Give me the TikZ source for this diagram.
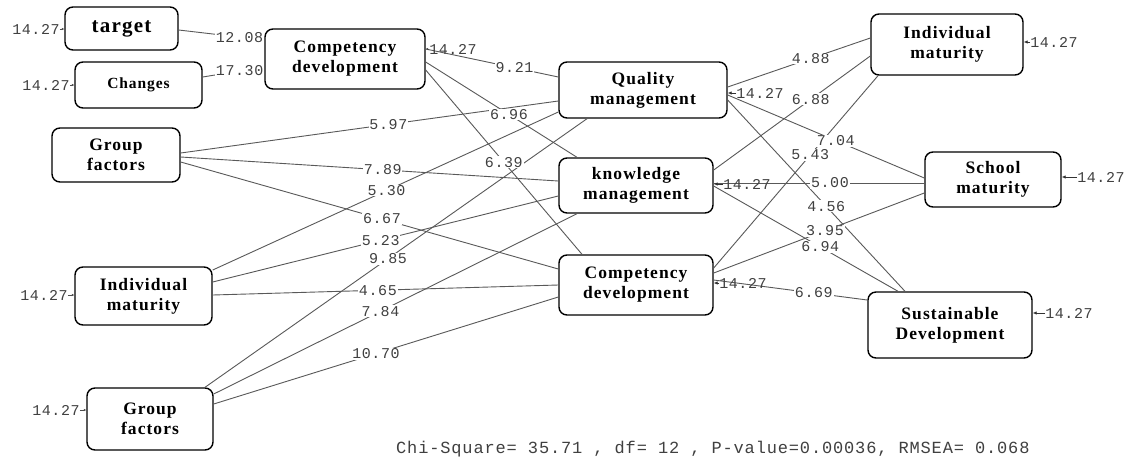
\documentclass[tikz,border=0pt]{standalone}
\usepackage{fontspec}
\usetikzlibrary{arrows.meta}
\newfontfamily\boxfont[LetterSpace=6]{Liberation Serif}
\newfontfamily\numfont[LetterSpace=4]{Liberation Mono}
\newfontfamily\chifont[LetterSpace=5]{Liberation Mono}
\begin{document}
\begin{tikzpicture}[x=1pt,y=-1pt,
  box/.style={draw=black, line width=1.4pt, rounded corners=8pt, align=center,
    font=\boxfont\bfseries\fontsize{17.5}{20}\selectfont, inner sep=0pt},
  conn/.style={draw=black!65, line width=0.9pt},
  lab/.style={font=\numfont\fontsize{15}{15}\selectfont, text=black!75, fill=white, inner sep=0.8pt},
  err/.style={font=\numfont\fontsize{15}{15}\selectfont, text=black!75, inner sep=0pt},
  errarr/.style={draw=black!80, line width=1pt, -{Latex[length=4pt,width=3.5pt]}},
  errarrl/.style={draw=black!70, line width=0.7pt, -{Latex[length=2.5pt,width=2.5pt]}},
  chi/.style={font=\chifont\fontsize{17}{17}\selectfont, text=black!75, inner sep=0pt}
]
\fill[white] (0,0) rectangle (1130,459);
\useasboundingbox (0,0) rectangle (1130,459);

% boxes
\node[box, minimum width=113pt, minimum height=43pt, font=\boxfont\bfseries\fontsize{21}{24}\selectfont] (tg) at (121.5,28.5) {target};
\node[box, minimum width=127pt, minimum height=46pt, font=\boxfont\bfseries\fontsize{15.5}{18}\selectfont] (ch) at (138.5,85) {Changes};
\node[box, minimum width=128pt, minimum height=54pt] (gft) at (116,155) {Group\\factors};
\node[box, minimum width=160pt, minimum height=60pt] (cdt) at (345,59) {Competency\\development};
\node[box, minimum width=137pt, minimum height=58pt] (iml) at (143.5,296) {Individual\\maturity};
\node[box, minimum width=126pt, minimum height=62pt] (gfb) at (150,419) {Group\\factors};
\node[box, minimum width=168pt, minimum height=56pt] (qm) at (643,90) {Quality\\management};
\node[box, minimum width=154pt, minimum height=55pt] (km) at (636,185.5) {knowledge\\management};
\node[box, minimum width=154pt, minimum height=60pt] (cdm) at (636,285) {Competency\\development};
\node[box, minimum width=152pt, minimum height=61pt] (imr) at (947,44.5) {Individual\\maturity};
\node[box, minimum width=136pt, minimum height=55pt] (sm) at (993,179.5) {School\\maturity};
\node[box, minimum width=164pt, minimum height=66pt] (sd) at (950,325) {Sustainable\\Development};

% connectors
\draw[conn] (tg.east |- 0,30) -- coordinate[pos=.71](c1) (cdt.west |- 0,40);
\draw[conn] (ch.east |- 0,77) -- coordinate[pos=.6](c2) (cdt.west |- 0,67);
\draw[conn] (cdt.east |- 0,49) -- coordinate[pos=.67](c3) (qm.west |- 0,77);
\draw[conn] (cdt.east |- 0,62) -- coordinate[pos=.55](c4) (577,0 |- km.north);
\draw[conn] (cdt.east |- 0,70) -- coordinate[pos=.5](c5) (582,0 |- cdm.north);
\draw[conn] (gft.east |- 0,153) -- coordinate[pos=.55](c6) (qm.west |- 0,101);
\draw[conn] (gft.east |- 0,157) -- coordinate[pos=.535](c7) (km.west |- 0,181);
\draw[conn] (gft.east |- 0,162) -- coordinate[pos=.533](c8) (cdm.west |- 0,269);
\draw[conn] (iml.east |- 0,270) -- coordinate[pos=.503](c9) (qm.west |- 0,112);
\draw[conn] (205,0 |- gfb.north) -- coordinate[pos=.479](c10) (587,0 |- qm.south);
\draw[conn] (iml.east |- 0,282) -- coordinate[pos=.486](c11) (km.west |- 0,196);
\draw[conn] (gfb.east |- 0,394) -- coordinate[pos=.459](c12) (577,0 |- km.south);
\draw[conn] (iml.east |- 0,295) -- coordinate[pos=.478](c13) (cdm.west |- 0,285);
\draw[conn] (gfb.east |- 0,404) -- coordinate[pos=.471](c14) (cdm.west |- 0,297);
\draw[conn] (qm.east |- 0,87) -- coordinate[pos=.583](c15) (imr.west |- 0,38);
\draw[conn] (km.east |- 0,170) -- coordinate[pos=.62](c16) (imr.west |- 0,56);
\draw[conn] (cdm.east |- 0,268) -- coordinate[pos=.588](c17) (878,0 |- imr.south);
\draw[conn] (qm.east |- 0,95) -- coordinate[pos=.55](c18) (sm.west |- 0,178);
\draw[conn] (km.east |- 0,183) -- coordinate[pos=.552](c19) (sm.west |- 0,183);
\draw[conn] (cdm.east |- 0,273) -- coordinate[pos=.528](c20) (sm.west |- 0,193);
\draw[conn] (qm.east |- 0,100) -- coordinate[pos=.556](c21) (905,0 |- sd.north);
\draw[conn] (km.east |- 0,186) -- coordinate[pos=.578](c22) (898,0 |- sd.north);
\draw[conn] (cdm.east |- 0,280) -- coordinate[pos=.652](c23) (sd.west |- 0,300);

% path labels
\node[lab] (l1) at (c1) {12.08};
\node[lab] (l2) at (c2) {17.30};
\node[lab] (l3) at (c3) {9.21};
\node[lab] (l4) at (c4) {6.96};
\node[lab] (l5) at (c5) {6.39};
\node[lab] (l6) at (c6) {5.97};
\node[lab] (l7) at (c7) {7.89};
\node[lab] (l8) at (c8) {6.67};
\node[lab] (l9) at (c9) {5.30};
\node[lab] (l10) at (c10) {9.85};
\node[lab] (l11) at (c11) {5.23};
\node[lab] (l12) at (c12) {7.84};
\node[lab] (l13) at (c13) {4.65};
\node[lab] (l14) at (c14) {10.70};
\node[lab] (l15) at (c15) {4.88};
\node[lab] (l16) at (c16) {6.88};
\node[lab] (l17) at (c17) {5.43};
\node[lab] (l18) at (c18) {7.04};
\node[lab] (l19) at (c19) {5.00};
\node[lab] (l20) at (c20) {3.95};
\node[lab] (l21) at (c21) {4.56};
\node[lab] (l22) at (c22) {6.94};
\node[lab] (l23) at (c23) {6.69};

% error variances
\node[err] (e1) at (36,29) {14.27};
\draw[errarrl] (e1.east) -- (tg.west |- e1);
\node[err] (e2) at (46,85) {14.27};
\draw[errarrl] (e2.east) -- (ch.west |- e2);
\node[err] (e3) at (44,295) {14.27};
\draw[errarrl] (e3.east) -- (iml.west |- e3);
\node[err] (e4) at (56,410) {14.27};
\draw[errarrl] (e4.east) -- (gfb.west |- e4);
\node[err] (e5) at (453,49) {14.27};
\draw[errarrl] (e5.west) -- (cdt.east |- e5);
\node[err] (e6) at (760,93) {14.27};
\draw[errarr] (e6.west) -- (qm.east |- e6);
\node[err] (e7) at (747,184) {14.27};
\draw[errarr] (e7.west) -- (km.east |- e7);
\node[err] (e8) at (743,283) {14.27};
\draw[errarr] (e8.west) -- (cdm.east |- e8);
\node[err] (e9) at (1054,42) {14.27};
\draw[errarr] (e9.west) -- (imr.east |- e9);
\node[err] (e10) at (1101,177) {14.27};
\draw[errarr] (e10.west) -- (sm.east |- e10);
\node[err] (e11) at (1069,313) {14.27};
\draw[errarr] (e11.west) -- (sd.east |- e11);

% fit statistics
\node[chi, anchor=west] (chi) at (396,449) {Chi-Square= 35.71 , df= 12 , P-value=0.00036, RMSEA= 0.068};
\end{tikzpicture}
\end{document}
